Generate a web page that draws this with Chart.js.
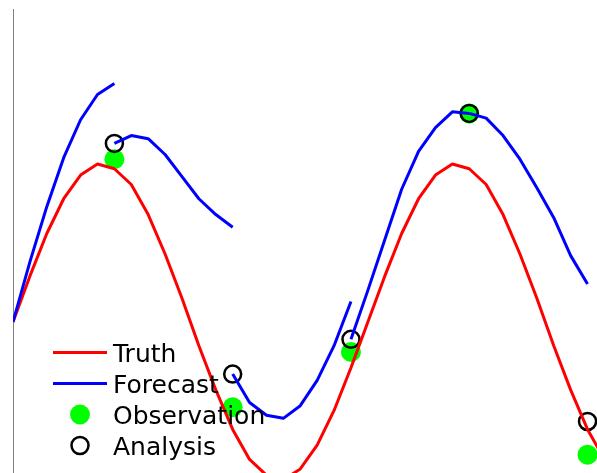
<!DOCTYPE html>
<html lang="en">

<head>
    <meta charset="UTF-8" />
    <title>Truth, Forecast and Analysis</title>
    <script src="https://cdn.jsdelivr.net/npm/chart.js"></script>
    <style>
        html, body {
            margin: 0;
            padding: 0;
            background: #fff;
        }

        canvas {
            display: block;
        }
    </style>
</head>

<body>
    <canvas id="cycleChart" width="597" height="473"></canvas>

    <script>
        // True state at every model step (0..35)
        const truth = [0, 0.29, 0.56, 0.78, 0.93, 1.00, 0.97, 0.87, 0.68, 0.43, 0.15, -0.15,
            -0.43, -0.68, -0.87, -0.97, -1.00, -0.93, -0.78, -0.56, -0.29, 0, 0.29, 0.56,
            0.78, 0.93, 1.00, 0.97, 0.87, 0.68, 0.43, 0.15, -0.15, -0.43, -0.68, -0.87];

        // Observed and analysed values at the assimilation steps
        const obsSteps = [6, 13, 20, 27, 34];
        const observations = [1.03, -0.54, -0.19, 1.32, -0.84];
        const analysis = [1.13, -0.33, -0.11, 1.32, -0.63];

        // Each forecast run starts from the analysis of the previous cycle
        const forecastStarts = [0, 6, 13, 20, 27];
        const forecast1 = [0, 0.38, 0.73, 1.04, 1.28, 1.44, 1.51];
        const forecast2 = [1.13, 1.18, 1.16, 1.06, 0.92, 0.78, 0.68, 0.60];
        const forecast3 = [-0.33, -0.51, -0.59, -0.61, -0.53, -0.37, -0.15, 0.13];
        const forecast4 = [-0.11, 0.20, 0.52, 0.84, 1.08, 1.23, 1.33, 1.32];
        const forecast5 = [1.32, 1.29, 1.18, 1.03, 0.85, 0.66, 0.42, 0.24];
        const forecastRuns = [forecast1, forecast2, forecast3, forecast4, forecast5];

        const toPoints = (start, values) => values.map((v, k) => ({ x: start + k, y: v }));

        // Legend drawn inside the plot, lower left, without a frame
        const cornerLegend = {
            id: "cornerLegend",
            afterDraw(chart) {
                const ctx = chart.ctx;
                const left = chart.chartArea.left;
                const items = chart.data.datasets.filter(d => d.label);
                ctx.save();
                ctx.font = '25px "DejaVu Sans"';
                ctx.textBaseline = "alphabetic";
                items.forEach((d, k) => {
                    const base = 362 + k * 31;
                    const mid = base - 9.5;
                    if (d.showLine === false) {
                        ctx.beginPath();
                        ctx.arc(left + 67, mid, d.pointRadius, 0, 2 * Math.PI);
                        if (d.pointBorderWidth) {
                            ctx.lineWidth = d.pointBorderWidth;
                            ctx.strokeStyle = d.pointBorderColor;
                            ctx.stroke();
                        } else {
                            ctx.fillStyle = d.pointBackgroundColor;
                            ctx.fill();
                        }
                    } else {
                        ctx.beginPath();
                        ctx.moveTo(left + 40, mid);
                        ctx.lineTo(left + 94, mid);
                        ctx.lineWidth = d.borderWidth;
                        ctx.strokeStyle = d.borderColor;
                        ctx.stroke();
                    }
                    ctx.fillStyle = "#000";
                    ctx.fillText(d.label, left + 100, base);
                });
                ctx.restore();
            }
        };

        const lineStyle = {
            borderWidth: 3,
            pointRadius: 0,
            pointHoverRadius: 0,
            borderJoinStyle: "round",
            fill: false
        };

        const datasets = [
            {
                label: "Truth",
                data: toPoints(0, truth),
                borderColor: "#ff0000",
                order: 1,
                ...lineStyle
            },
            ...forecastRuns.map((run, k) => ({
                label: k === 0 ? "Forecast" : "",
                data: toPoints(forecastStarts[k], run),
                borderColor: "#0000ff",
                order: 0,
                ...lineStyle
            })),
            {
                label: "Observation",
                data: obsSteps.map((s, k) => ({ x: s, y: observations[k] })),
                showLine: false,
                pointRadius: 10,
                pointHoverRadius: 10,
                pointBackgroundColor: "#00ff00",
                pointBorderWidth: 0,
                order: 3
            },
            {
                label: "Analysis",
                data: obsSteps.map((s, k) => ({ x: s, y: analysis[k] })),
                showLine: false,
                pointRadius: 8.5,
                pointHoverRadius: 8.5,
                pointBackgroundColor: "rgba(0,0,0,0)",
                pointBorderColor: "#000000",
                pointBorderWidth: 2.5,
                order: 2
            }
        ];

        new Chart(document.getElementById("cycleChart"), {
            type: "line",
            data: { datasets },
            options: {
                responsive: false,
                animation: false,
                events: [],
                layout: {
                    autoPadding: false,
                    padding: { left: 13, top: 9, right: 0, bottom: 0 }
                },
                plugins: {
                    legend: { display: false },
                    tooltip: { enabled: false }
                },
                scales: {
                    x: {
                        type: "linear",
                        display: false,
                        min: 0,
                        max: 34.56
                    },
                    y: {
                        type: "linear",
                        min: -0.956,
                        max: 1.981,
                        grid: { display: false, drawTicks: false },
                        ticks: { display: false },
                        border: { display: true, color: "#808080", width: 1 }
                    }
                }
            },
            plugins: [cornerLegend]
        });
    </script>
</body>

</html>
